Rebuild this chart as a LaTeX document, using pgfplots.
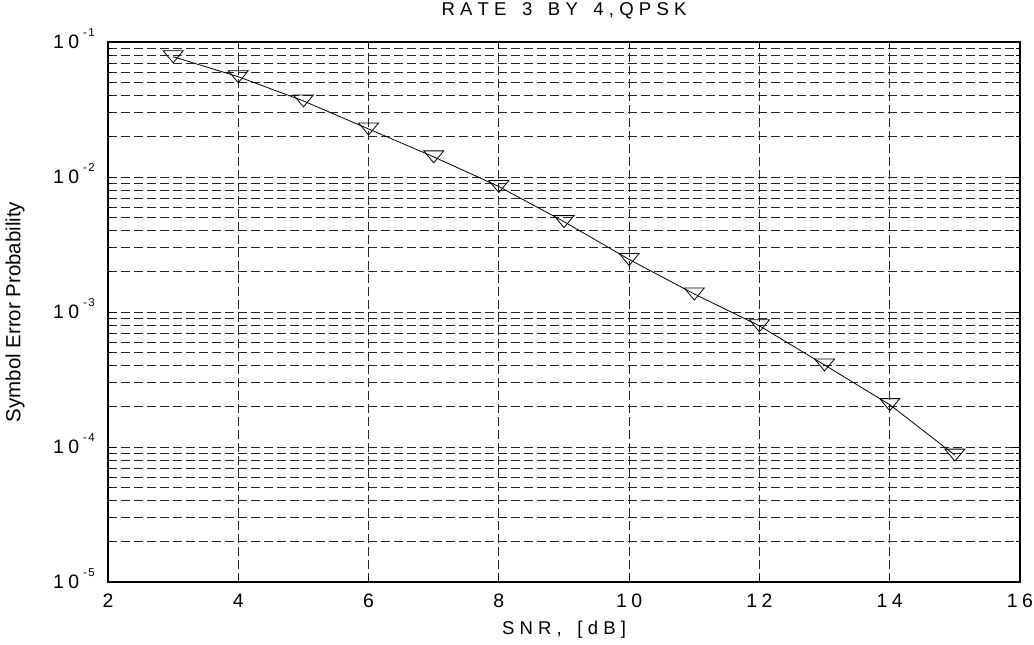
\documentclass[border=0pt]{standalone}
\usepackage{fontspec}
\setmainfont{Liberation Sans}
\usepackage{pgfplots}
\pgfplotsset{compat=1.18}
\pgfdeclareplotmark{dtri}{%
  \pgfpathmoveto{\pgfqpoint{-10bp}{6bp}}%
  \pgfpathlineto{\pgfqpoint{10bp}{6bp}}%
  \pgfpathlineto{\pgfqpoint{0bp}{-6bp}}%
  \pgfpathclose\pgfusepathqstroke}
\newcommand{\lk}{\kern5.2bp}
\newcommand{\tk}{\kern4.5bp}
\newcommand{\ytl}[1]{{\fontsize{19.5}{24}\selectfont 1\tk 0}\hspace{4bp}\raisebox{12bp}{\fontsize{11.5}{14}\selectfont -\kern1.5bp#1}}
\begin{document}
\begin{tikzpicture}
\begin{axis}[
  scale only axis,
  width=912bp, height=540bp,
  xmin=2, xmax=16,
  ymode=log, ymin=1e-5, ymax=1e-1,
  xtick={2,4,6,8,10,12,14,16},
  xticklabels={2,4,6,8,1\tk 0,1\tk 2,1\tk 4,1\tk 6},
  minor x tick num=0,
  ytick={1e-5,1e-4,1e-3,1e-2,1e-1},
  yticklabels={\ytl{5},\ytl{4},\ytl{3},\ytl{2},\ytl{1}},
  xticklabel style={anchor=base, yshift=-25bp, inner sep=0pt, font=\fontsize{19.5}{22}\selectfont},
  yticklabel style={anchor=base east, inner sep=0pt, xshift=-13bp, yshift=-6.5bp},
  grid=both,
  major grid style={black!85, line width=0.8bp, dash pattern=on 9bp off 4bp},
  minor grid style={black!85, line width=0.8bp, dash pattern=on 9bp off 4bp},
  major tick length=7bp, minor tick length=4bp,
  tick style={black, line width=0.8bp},
  axis line style={black, line width=1.2bp},
  title={R\lk A\lk T\lk E\lk{} \lk 3\lk{} \lk B\lk Y\lk{} \lk 4\lk ,\lk Q\lk P\lk S\lk K},
  title style={at={(axis description cs:0.5,1.038)}, anchor=base, inner sep=0pt, font=\fontsize{18.6}{22}\selectfont},
  xlabel={S\lk N\lk R\lk ,\lk{} \lk [\lk d\lk B\lk ]},
  xlabel style={at={(axis description cs:0.5,-0.098)}, anchor=base, inner sep=0pt, font=\fontsize{18.6}{22}\selectfont},
  ylabel={Symbol Error Probability},
  ylabel style={at={(axis description cs:-0.102,0.5)}, anchor=center, inner sep=0pt, font=\fontsize{20.5}{24}\selectfont},
]
\addplot[black, line width=0.8bp, mark=dtri, mark options={solid, line width=0.8bp}] table {
x y
3 0.0778
4 0.0553
5 0.0366
6 0.0227
7 0.0141
8 0.0085
9 0.00467
10 0.00245
11 0.00136
12 0.00079
13 0.000405
14 0.000206
15 0.0000871
};
\end{axis}
\pgfresetboundingbox
\path[use as bounding box] ([xshift=-108bp,yshift=-63bp]current axis.south west) rectangle ([xshift=14bp,yshift=42bp]current axis.north east);
\end{tikzpicture}
\end{document}
